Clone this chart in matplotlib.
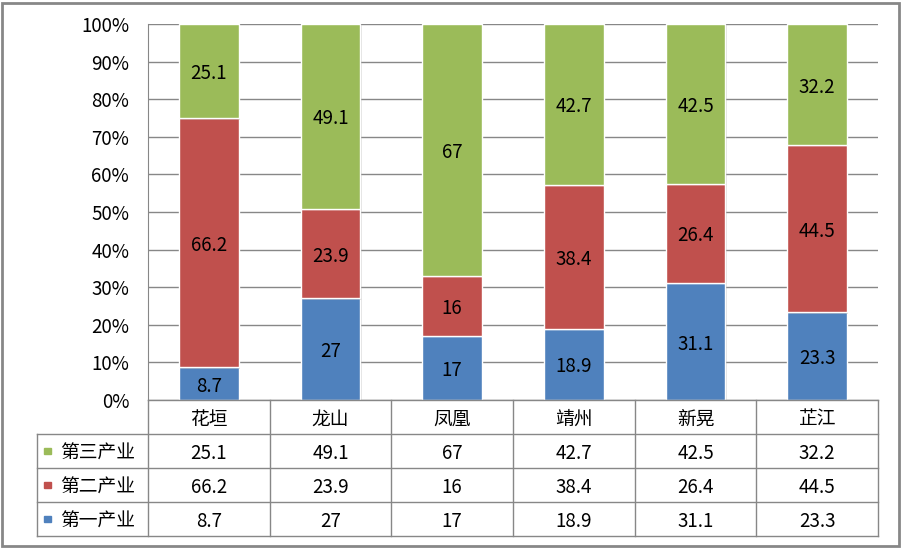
import matplotlib.pyplot as plt
from matplotlib.patches import Rectangle
from matplotlib import patheffects as pe

plt.rcParams['font.family'] = ['Noto Sans CJK SC', 'DejaVu Sans']

towns = ['花垣', '龙山', '凤凰', '靖州', '新晃', '芷江']
series = ['第三产业', '第二产业', '第一产业']
primary = [8.7, 27, 17, 18.9, 31.1, 23.3]
secondary = [66.2, 23.9, 16, 38.4, 26.4, 44.5]
tertiary = [25.1, 49.1, 67, 42.7, 42.5, 32.2]
yticks = [0, 10, 20, 30, 40, 50, 60, 70, 80, 90, 100]

c_blue = '#4F81BD'
c_red = '#C0504D'
c_green = '#9BBB59'
grid_c = '#878787'
fs = 13.5

W, H = 902, 548
fig = plt.figure(figsize=(W / 100, H / 100), dpi=100)

# outer frame
fig.patches.append(Rectangle((1.5 / W, 2.5 / H), 897 / W, 543 / H, transform=fig.transFigure,
                             fill=False, edgecolor='#878787', linewidth=2))

px_l, px_r, px_t, px_b = 148, 878, 24, 400
ax = fig.add_axes([px_l / W, 1 - px_b / H, (px_r - px_l) / W, (px_b - px_t) / H])

x = list(range(len(towns)))
shadow = [pe.SimplePatchShadow(offset=(1, -1), shadow_rgbFace='#999999', alpha=0.3), pe.Normal()]
bottoms = [0] * len(towns)
for vals, col in [(primary, c_blue), (secondary, c_red), (tertiary, c_green)]:
    bars = ax.bar(x, vals, width=0.49, bottom=bottoms, color=col, edgecolor='white', linewidth=1, zorder=3)
    for b in bars:
        b.set_path_effects(shadow)
    for i, v in enumerate(vals):
        ax.text(x[i], bottoms[i] + v / 2, f'{v:g}', ha='center', va='center_baseline',
                fontsize=fs, color='black', zorder=4)
    bottoms = [bottoms[i] + vals[i] for i in range(len(towns))]

ax.set_xlim(-0.5, len(towns) - 0.5)
ax.set_ylim(0, 100)
ax.set_yticks(yticks)
ax.set_yticklabels([f'{t}%' for t in yticks], fontsize=fs)
ax.tick_params(axis='y', length=0, pad=13.5)
ax.set_xticks([])
ax.yaxis.grid(True, color=grid_c, linewidth=1)
ax.set_axisbelow(True)
for s in ['top', 'right', 'bottom']:
    ax.spines[s].set_visible(False)
ax.spines['left'].set_color(grid_c)

# data table
cat_w = (px_r - px_l) / len(towns)
leg_w = (px_l - 37) / cat_w
tb_t, tb_b = 400, 536
tax = fig.add_axes([37 / W, 1 - tb_b / H, (px_r - 37) / W, (tb_b - tb_t) / H])
tax.set_xlim(-0.5 - leg_w, len(towns) - 0.5)
tax.set_ylim(4, 0)
tax.axis('off')
lk = dict(color=grid_c, linewidth=1, clip_on=False)
tax.plot([-0.5, len(towns) - 0.5], [0, 0], **lk)
for r in [1, 2, 3, 4]:
    tax.plot([-0.5 - leg_w, len(towns) - 0.5], [r, r], **lk)
tax.plot([-0.5 - leg_w, -0.5 - leg_w], [1, 4], **lk)
for i in range(len(towns) + 1):
    tax.plot([i - 0.5, i - 0.5], [0, 4], **lk)

for i, t in enumerate(towns):
    tax.text(i, 0.5, t, ha='center', va='center_baseline', fontsize=fs)
rows = [(series[0], tertiary, c_green), (series[1], secondary, c_red), (series[2], primary, c_blue)]
sq = 7 / cat_w
for r, (name, vals, col) in enumerate(rows):
    yc = r + 1.5
    tax.add_patch(Rectangle((-0.5 - leg_w + 7 / cat_w, yc - 0.1), sq, 0.2, color=col, clip_on=False))
    tax.text(-0.5 - leg_w + 23 / cat_w, yc, name, ha='left', va='center_baseline', fontsize=fs)
    for i, v in enumerate(vals):
        tax.text(i, yc, f'{v:g}', ha='center', va='center_baseline', fontsize=fs)

fig.savefig('out.png', dpi=100)
